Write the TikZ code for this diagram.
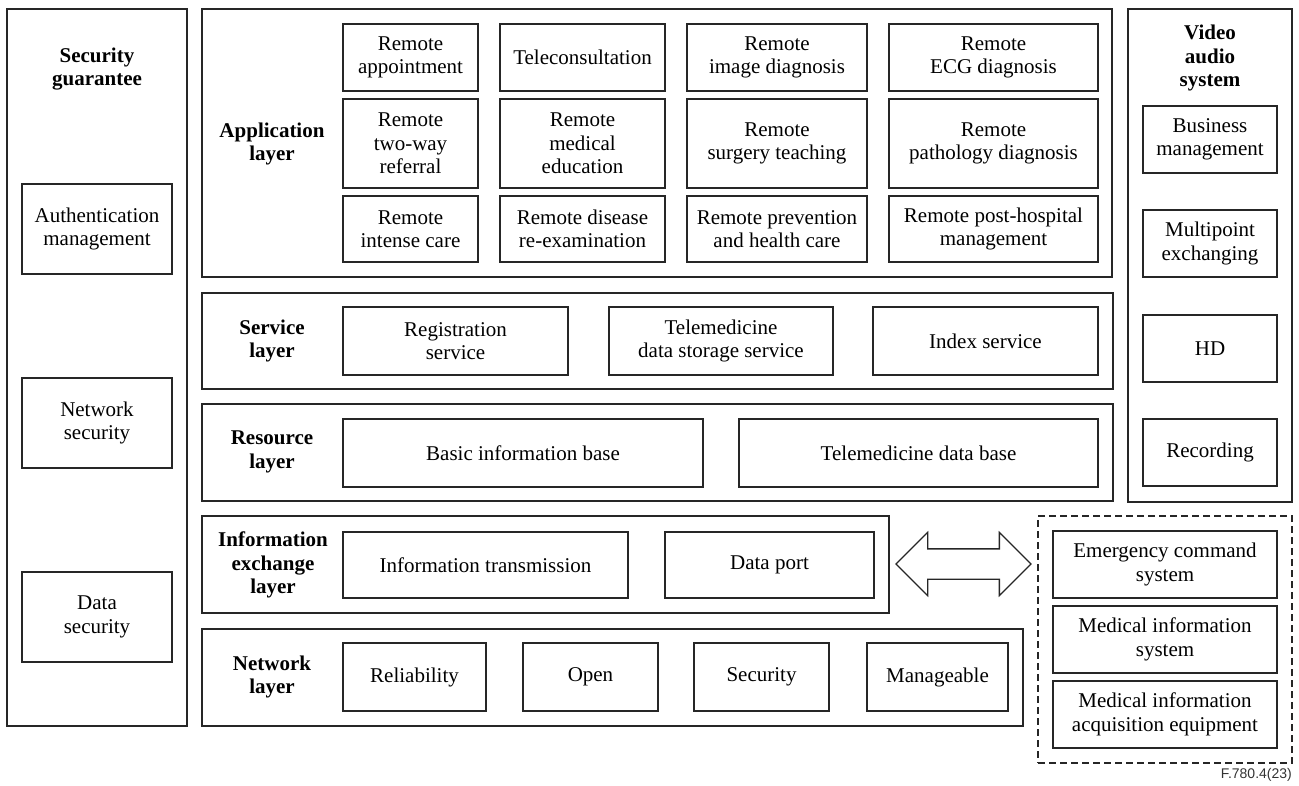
\documentclass[tikz,border=0pt]{standalone}
\usepackage{fontspec}
\setmainfont{Liberation Serif}
\newfontfamily\capsans{Liberation Sans}
\usetikzlibrary{shapes.arrows}
% box from (x1,y1) to (x2,y2), named #6
\newcommand{\mybox}[6][box]{\node[#1, minimum width={#4-#2}, minimum height={#5-#3}] (#6) at ({(#2+#4)/2},{(#3+#5)/2})}
\begin{document}
\begin{tikzpicture}[x=1pt,y=-1pt,
  box/.style={draw=black!85, line width=1.3pt, inner sep=0pt, align=center,
    font=\fontsize{21}{23.5}\selectfont},
  frame/.style={draw=black!85, line width=1.3pt, inner sep=0pt},
  dframe/.style={draw=black!85, line width=1.3pt, inner sep=0pt, dash pattern=on 7pt off 4pt},
  title/.style={align=center, inner sep=0pt, font=\fontsize{21}{23.3}\selectfont\bfseries},
  bigarrow/.style={double arrow, draw=black!85, line width=1.3pt, inner xsep=0pt, inner ysep=14.5pt,
    double arrow head extend=16.5pt, minimum height=135pt, double arrow tip angle=90}]
\useasboundingbox (0,0) rectangle (1299,785);

% Security guarantee
\mybox[frame]{7}{9}{187}{726}{sec} {};
\node[title] (sectitle) at (97,69) {Security\\guarantee};
\mybox{22}{184}{172}{274}{auth} {Authentication\\management};
\mybox{22}{378}{172}{468}{netsec} {Network\\security};
\mybox{22}{572}{172}{662}{datasec} {Data\\security};

% Application layer
\mybox[frame]{202}{9}{1112}{277}{app} {};
\node[title] (apptitle) at (272,144) {Application\\layer};
\mybox{343}{24}{478}{91}{a11} {Remote\\appointment};
\mybox{500}{24}{665}{91}{a12} {Teleconsultation};
\mybox{687}{24}{867}{91}{a13} {Remote\\image diagnosis};
\mybox{889}{24}{1098}{91}{a14} {Remote\\ECG diagnosis};
\mybox{343}{99}{478}{188}{a21} {Remote\\two-way\\referral};
\mybox{500}{99}{665}{188}{a22} {Remote\\medical\\education};
\mybox{687}{99}{867}{188}{a23} {Remote\\surgery teaching};
\mybox{889}{99}{1098}{188}{a24} {Remote\\pathology diagnosis};
\mybox{343}{196}{478}{262}{a31} {Remote\\intense care};
\mybox{500}{196}{665}{262}{a32} {Remote disease\\re-examination};
\mybox{687}{196}{867}{262}{a33} {Remote prevention\\and health care};
\mybox{889}{196}{1098}{262}{a34} {Remote post-hospital\\management};

% Service layer
\mybox[frame]{202}{293}{1113}{389}{srv} {};
\node[title] (srvtitle) at (272,341) {Service\\layer};
\mybox{343}{307}{568}{375}{reg} {Registration\\service};
\mybox{609}{307}{833}{375}{store} {Telemedicine\\data storage service};
\mybox{873}{307}{1098}{375}{index} {Index service};

% Resource layer
\mybox[frame]{202}{404}{1113}{501}{res} {};
\node[title] (restitle) at (272,452) {Resource\\layer};
\mybox{343}{419}{703}{487}{basic} {Basic information base};
\mybox{739}{419}{1098}{487}{tdb} {Telemedicine data base};

% Information exchange layer
\mybox[frame]{202}{516}{889}{613}{iex} {};
\node[title] (iextitle) at (273,565) {Information\\exchange\\layer};
\mybox{343}{532}{628}{598}{trans} {Information transmission};
\mybox{665}{532}{874}{598}{port} {Data port};

% Network layer
\mybox[frame]{202}{629}{1023}{726}{net} {};
\node[title] (nettitle) at (272,677) {Network\\layer};
\mybox{343}{643}{486}{711}{rel} {Reliability};
\mybox{523}{643}{658}{711}{open} {Open};
\mybox{694}{643}{829}{711}{secu} {Security};
\mybox{867}{643}{1008}{711}{man} {Manageable};

% Video audio system
\mybox[frame]{1128}{9}{1292}{502}{vas} {};
\node[title] (vastitle) at (1210,58) {Video\\audio\\system};
\mybox{1143}{106}{1277}{173}{bus} {Business\\management};
\mybox{1143}{210}{1277}{277}{multi} {Multipoint\\exchanging};
\mybox{1143}{315}{1277}{382}{hd} {HD};
\mybox{1143}{419}{1277}{486}{rec} {Recording};

% External systems
\mybox[dframe]{1038}{516}{1292}{763}{ext} {};
\mybox{1053}{531}{1277}{598}{emer} {Emergency command\\system};
\mybox{1053}{606}{1277}{673}{mis} {Medical information\\system};
\mybox{1053}{681}{1277}{748}{acq} {Medical information\\acquisition equipment};

% Double arrow
\node[bigarrow] (arr) at (963.5,564) {};

% Caption
\node[anchor=base east, inner sep=0pt, font=\capsans\fontsize{14}{16}\selectfont, text=black!80] (cap) at (1292,778) {F.780.4(23)};
\end{tikzpicture}
\end{document}
